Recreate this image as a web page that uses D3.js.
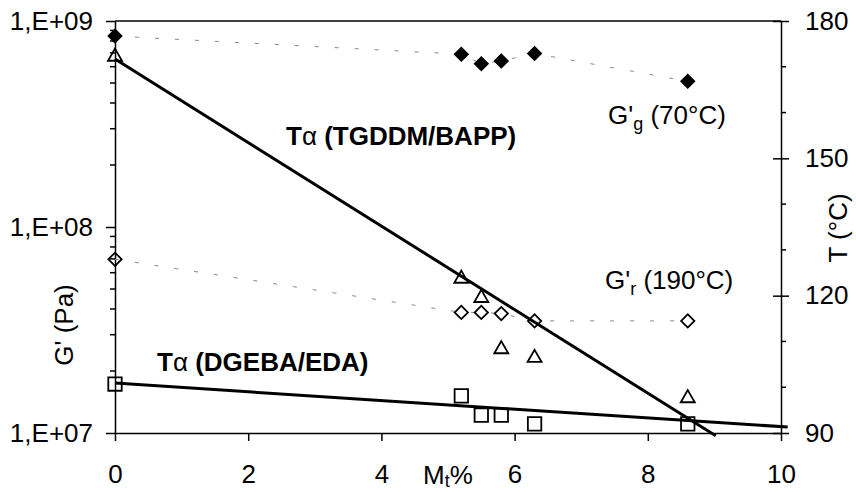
<!DOCTYPE html>
<html>
<head>
<meta charset="utf-8">
<script src="https://cdn.jsdelivr.net/npm/d3@7/dist/d3.min.js"></script>
<style>
    body { margin: 0; background: #fff; }
    svg { display: block; font-family: "Liberation Sans", Arial, sans-serif; }
    .axis path, .axis line { stroke: #000; stroke-width: 1.5; }
    .axis text { font-size: 26px; fill: #000; }
    .label { font-size: 26px; fill: #000; }
    .bold { font-weight: bold; }
</style>
</head>
<body>
<div id="chart"></div>
<script>
// Mt% content of each sample
let mt = [0, 5.2, 5.5, 5.8, 6.3, 8.6];

// G' (Pa), left log axis
let gGlass  = [8.45e8, 6.9e8, 6.2e8, 6.4e8, 6.95e8, 5.1e8];
let gRubber = [6.97e7, 3.85e7, 3.85e7, 3.8e7, 3.5e7, 3.5e7];

// T alpha (degC), right axis
let tTgddm = [172.2, 123.7, 119.5, 108.3, 106.4, 97.6];
let tDgeba = [100.7, 98.1, 93.9, 93.9, 92.0, 92.0];

// linear fits of T alpha, [Mt%, T]
let fitTgddm = [[0, 171.7], [9.02, 89.4]];
let fitDgeba = [[0, 100.9], [10.1, 91.3]];

let xTicks = [0, 2, 4, 6, 8, 10];
let gTicks = [1e7, 1e8, 1e9];
let tTicks = [90, 120, 150, 180];
let tMinor = [100, 110, 130, 140, 160, 170];

let width = 856, height = 492;
let m = { left: 115, right: 781, top: 21, bottom: 433 };

let svg = d3.select('#chart').append('svg')
    .attr('width', width)
    .attr('height', height);

let x = d3.scaleLinear().domain([0, 10]).range([m.left, m.right]);
let g = d3.scaleLog().domain([1e7, 1e9]).range([m.bottom, m.top]);
let t = d3.scaleLinear().domain([90, 180]).range([m.bottom, m.top]);

// minor ticks of the log axis (2..9 in each decade)
let gMinor = [];
for (let dec of [1e7, 1e8])
    for (let k = 2; k <= 9; k++) gMinor.push(dec * k);

// frame top
svg.append('line')
    .attr('x1', m.left).attr('x2', m.right)
    .attr('y1', m.top).attr('y2', m.top)
    .attr('stroke', '#000').attr('stroke-width', 1.5);

// bottom axis
svg.append('g')
    .attr('class', 'axis')
    .attr('transform', `translate(0,${m.bottom})`)
    .call(d3.axisBottom(x).tickValues(xTicks).tickSize(8).tickSizeOuter(0).tickPadding(24).tickFormat(d3.format('d')));

// left log axis
let left = svg.append('g')
    .attr('class', 'axis')
    .attr('transform', `translate(${m.left},0)`)
    .call(d3.axisLeft(g).tickValues(gTicks).tickSize(9).tickSizeOuter(0).tickPadding(13)
        .tickFormat(d => '1,E+0' + Math.round(Math.log10(d))));

left.selectAll('.minor')
    .data(gMinor)
    .enter().append('line')
    .attr('class', 'minor')
    .attr('x1', -5).attr('x2', 0)
    .attr('y1', d => g(d)).attr('y2', d => g(d));

// right axis
let right = svg.append('g')
    .attr('class', 'axis')
    .attr('transform', `translate(${m.right},0)`)
    .call(d3.axisRight(t).tickValues(tTicks).tickSize(8).tickSizeOuter(0).tickPadding(16));

right.selectAll('.tick line').attr('x1', -8);

right.selectAll('.minor')
    .data(tMinor)
    .enter().append('line')
    .attr('class', 'minor')
    .attr('x1', 0).attr('x2', 5)
    .attr('y1', d => t(d)).attr('y2', d => t(d));

// dotted lines through G' points
let gLine = d3.line().x(d => x(d[0])).y(d => g(d[1]));

for (let series of [gGlass, gRubber])
    svg.append('path')
        .attr('d', gLine(d3.zip(mt, series)))
        .attr('fill', 'none')
        .attr('stroke', '#888')
        .attr('stroke-width', 1)
        .attr('stroke-dasharray', '4,16');

// fit lines
let tLine = d3.line().x(d => x(d[0])).y(d => t(d[1]));

for (let fit of [fitTgddm, fitDgeba])
    svg.append('path')
        .attr('d', tLine(fit))
        .attr('fill', 'none')
        .attr('stroke', '#000')
        .attr('stroke-width', 3);

// markers
function markers(values, scale, type, size, filled, rotate) {
    svg.append('g')
        .selectAll('path')
        .data(d3.zip(mt, values))
        .enter().append('path')
        .attr('d', d3.symbol().type(type).size(size))
        .attr('transform', d => `translate(${x(d[0])},${scale(d[1])})` + (rotate ? ' rotate(45)' : ''))
        .attr('fill', filled ? '#000' : 'none')
        .attr('stroke', '#000')
        .attr('stroke-width', filled ? 1 : 1.8);
}

markers(gGlass, g, d3.symbolSquare, 100, true, true);
markers(gRubber, g, d3.symbolSquare, 88, false, true);
markers(tTgddm, t, d3.symbolTriangle, 85, false, false);
markers(tDgeba, t, d3.symbolSquare, 180, false, false);

// labels
function label(px, py, cls) {
    return svg.append('text')
        .attr('class', 'label ' + (cls || ''))
        .attr('x', px)
        .attr('y', py);
}

let l1 = label(286, 145, 'bold');
l1.append('tspan').text('T');
l1.append('tspan').attr('font-weight', 'normal').text('α');
l1.append('tspan').text(' (TGDDM/BAPP)');

let l2 = label(157, 371, 'bold');
l2.append('tspan').text('T');
l2.append('tspan').attr('font-weight', 'normal').text('α');
l2.append('tspan').text(' (DGEBA/EDA)');

let l3 = label(608, 124);
l3.append('tspan').text("G'");
l3.append('tspan').attr('font-size', 18).attr('dy', 6).text('g');
l3.append('tspan').attr('dy', -6).text(' (70°C)');

let l4 = label(605, 289);
l4.append('tspan').text("G'");
l4.append('tspan').attr('font-size', 18).attr('dy', 6).text('r');
l4.append('tspan').attr('dy', -6).text(' (190°C)');

let l5 = label(423, 484);
l5.append('tspan').text('M');
l5.append('tspan').attr('font-size', 18).attr('dy', 3).text('t');
l5.append('tspan').attr('dy', -3).text('%');

svg.append('text')
    .attr('class', 'label')
    .attr('text-anchor', 'middle')
    .attr('transform', 'translate(73,325) rotate(-90)')
    .text("G' (Pa)");

svg.append('text')
    .attr('class', 'label')
    .attr('text-anchor', 'middle')
    .attr('transform', 'translate(847,228) rotate(-90)')
    .text('T (°C)');
</script>
</body>
</html>
